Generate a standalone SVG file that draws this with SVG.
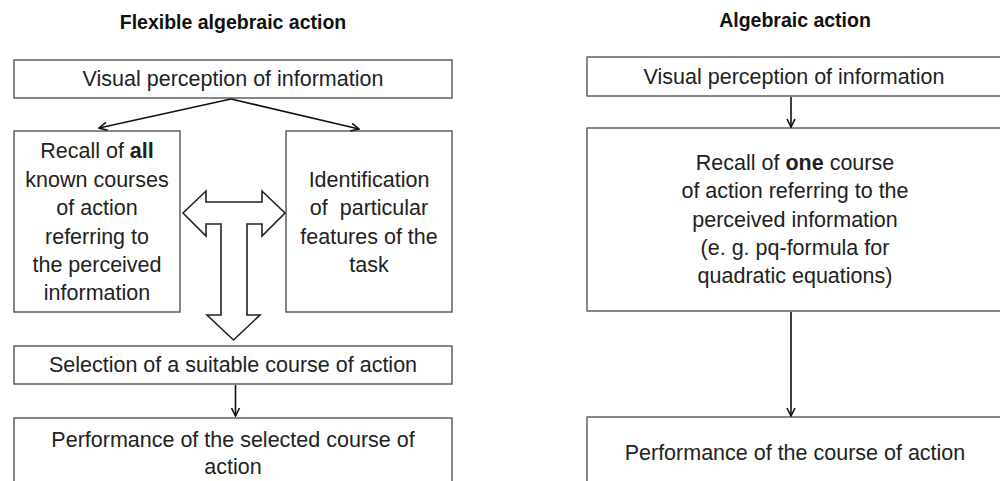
<svg xmlns="http://www.w3.org/2000/svg" width="1000" height="481" viewBox="0 0 1000 481">
<defs>
<style>
.box{fill:#fff;stroke:#555;stroke-width:1.4}
.t{font-family:"Liberation Sans",Arial,sans-serif;font-size:21.5px;fill:#222;text-anchor:middle}
.h{font-family:"Liberation Sans",Arial,sans-serif;font-size:19.5px;font-weight:bold;fill:#111;text-anchor:middle}
.b{font-weight:bold}
.ln{stroke:#111;stroke-width:1.6;fill:none}
.blk{fill:#fff;stroke:#222;stroke-width:1.6;stroke-linejoin:miter}
</style>
<marker id="ah" viewBox="0 0 10 10" refX="9" refY="5" markerWidth="10" markerHeight="10" markerUnits="userSpaceOnUse" orient="auto">
<path d="M1,1 L9,5 L1,9" fill="none" stroke="#111" stroke-width="1.6"/>
</marker>
</defs>
<rect width="1000" height="481" fill="#fff"/>
<text class="h" x="233" y="29">Flexible algebraic action</text>
<text class="h" x="795" y="27">Algebraic action</text>

<g id="l-visual">
<rect class="box" x="14" y="60" width="438" height="38"/>
<text class="t" x="233" y="86">Visual perception of information</text>
</g>
<g id="l-recall">
<rect class="box" x="14" y="131" width="166" height="181"/>
<text class="t" x="97" y="158">Recall of <tspan class="b">all</tspan></text>
<text class="t" x="97" y="187">known courses</text>
<text class="t" x="97" y="215">of action</text>
<text class="t" x="97" y="244">referring to</text>
<text class="t" x="97" y="272">the perceived</text>
<text class="t" x="97" y="300">information</text>
</g>
<g id="l-ident">
<rect class="box" x="286" y="131" width="166" height="181"/>
<text class="t" x="369" y="187">Identification</text>
<text class="t" x="369" y="215" style="white-space:pre">of  particular</text>
<text class="t" x="369" y="244">features of the</text>
<text class="t" x="369" y="272">task</text>
</g>
<g id="l-select">
<rect class="box" x="14" y="346" width="438" height="38"/>
<text class="t" x="233" y="372">Selection of a suitable course of action</text>
</g>
<g id="l-perform">
<rect class="box" x="14" y="418" width="438" height="80"/>
<text class="t" x="233" y="447">Performance of the selected course of</text>
<text class="t" x="233" y="474">action</text>
</g>

<g id="r-visual">
<rect class="box" x="587" y="57" width="430" height="39"/>
<text class="t" x="794" y="84">Visual perception of information</text>
</g>
<g id="r-recall">
<rect class="box" x="587" y="128" width="430" height="183"/>
<text class="t" x="795" y="170">Recall of <tspan class="b">one</tspan> course</text>
<text class="t" x="795" y="198">of action referring to the</text>
<text class="t" x="795" y="227">perceived information</text>
<text class="t" x="795" y="255">(e. g. pq-formula for</text>
<text class="t" x="795" y="283">quadratic equations)</text>
</g>
<g id="r-perform">
<rect class="box" x="587" y="417" width="430" height="80"/>
<text class="t" x="795" y="460">Performance of the course of action</text>
</g>

<g id="connectors">
<line class="ln" x1="231" y1="99" x2="99" y2="128" marker-end="url(#ah)"/>
<line class="ln" x1="231" y1="99" x2="359" y2="129" marker-end="url(#ah)"/>
<path class="blk" d="M183,213 L206,191 L206,202 L262,202 L262,191 L285,213 L262,236 L262,224 L247,224 L247,315 L260,315 L233.5,340 L207,315 L221,315 L221,224 L206,224 L206,236 Z"/>
<line class="ln" x1="235.5" y1="385" x2="235.5" y2="416" marker-end="url(#ah)"/>
<line class="ln" x1="791" y1="97" x2="791" y2="127" marker-end="url(#ah)"/>
<line class="ln" x1="791" y1="312" x2="791" y2="416" marker-end="url(#ah)"/>
</g>
</svg>
